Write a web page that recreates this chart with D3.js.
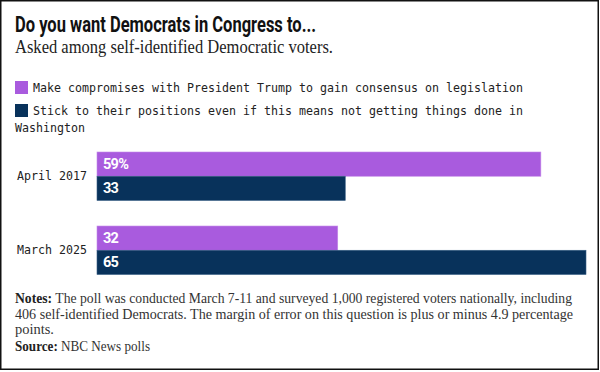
<!DOCTYPE html>
<html>
<head>
    <meta charset="utf-8">
    <title>Do you want Democrats in Congress to...</title>
    <script src="https://d3js.org/d3.v7.min.js"></script>
    <style>
        html, body {
            margin: 0;
            background: #fff;
            overflow: hidden;
        }
    </style>
</head>
<body>
    <svg id="svg"></svg>
    <script>
        // data
        const categories = ["April 2017", "March 2025"];
        const seriesNames = [
            "Make compromises with President Trump to gain consensus on legislation",
            "Stick to their positions even if this means not getting things done in"
        ];
        const compromise = [59, 32];
        const stick = [33, 65];
        const colors = ["#a95bde", "#08325b"];

        const width = 600;
        const height = 372;

        const svg = d3.select("#svg")
        .attr("width", width)
        .attr("height", height);

        svg.append("rect")
        .attr("x", 0.75).attr("y", 0.75)
        .attr("width", 597.5).attr("height", 368.5)
        .attr("fill", "#fff")
        .attr("stroke", "#111")
        .attr("stroke-width", 1.5);

        // title
        svg.append("text")
        .attr("x", 15).attr("y", 32)
        .attr("font-family", "Roboto, sans-serif")
        .attr("font-weight", 700)
        .attr("font-size", 22.5)
        .attr("fill", "#111")
        .attr("textLength", 301)
        .attr("lengthAdjust", "spacingAndGlyphs")
        .text("Do you want Democrats in Congress to...");

        svg.append("text")
        .attr("x", 15).attr("y", 53)
        .attr("font-family", "Liberation Serif, serif")
        .attr("font-size", 18)
        .attr("fill", "#222")
        .attr("textLength", 318)
        .attr("lengthAdjust", "spacingAndGlyphs")
        .text("Asked among self-identified Democratic voters.");

        // legend
        const mono = "DejaVu Sans Mono, monospace";
        const legend = svg.append("g");
        legend.selectAll("rect")
        .data(seriesNames)
        .enter()
        .append("rect")
        .attr("x", 15)
        .attr("y", (d, i) => 81 + i * 23)
        .attr("width", 13)
        .attr("height", 13)
        .attr("fill", (d, i) => colors[i]);

        legend.selectAll("text")
        .data(seriesNames)
        .enter()
        .append("text")
        .attr("x", 33)
        .attr("y", (d, i) => 92 + i * 23)
        .attr("font-family", mono)
        .attr("font-size", 11.5)
        .attr("fill", "#222")
        .attr("textLength", d => d.length * 7.0)
        .attr("lengthAdjust", "spacingAndGlyphs")
        .text(d => d);

        legend.append("text")
        .attr("x", 15).attr("y", 132)
        .attr("font-family", mono)
        .attr("font-size", 11.5)
        .attr("fill", "#222")
        .attr("textLength", 10 * 7.0)
        .attr("lengthAdjust", "spacingAndGlyphs")
        .text("Washington");

        // bars
        const x = d3.scaleLinear().domain([0, 65]).range([97, 586]);
        const y = d3.scaleBand().domain(categories).range([152, 274.5]).paddingInner(0.345).paddingOuter(0);
        const bh = y.bandwidth() / 2;

        const rows = categories.map((c, i) => ({ cat: c, vals: [compromise[i], stick[i]] }));

        const groups = svg.selectAll("g.row")
        .data(rows)
        .enter()
        .append("g")
        .attr("class", "row")
        .attr("transform", d => `translate(0, ${y(d.cat)})`);

        groups.selectAll("rect")
        .data((d, gi) => d.vals.map((v, i) => ({ v, i, gi })))
        .enter()
        .append("rect")
        .attr("x", x(0))
        .attr("y", d => d.i * bh)
        .attr("width", d => x(d.v) - x(0))
        .attr("height", bh)
        .attr("fill", d => colors[d.i])
        .attr("stroke", d => d.i === 0 ? "#c48ae8" : "#3a5f85")
        .attr("stroke-width", 0.6);

        groups.selectAll("text.val")
        .data((d, gi) => d.vals.map((v, i) => ({ v, i, gi })))
        .enter()
        .append("text")
        .attr("class", "val")
        .attr("x", x(0) + 6)
        .attr("y", d => d.i * bh + bh / 2 + 5)
        .attr("font-family", "Roboto, sans-serif")
        .attr("font-weight", 700)
        .attr("font-size", 14.5)
        .attr("letter-spacing", -0.7)
        .attr("fill", "#fff")
        .text(d => d.gi === 0 && d.i === 0 ? d.v + "%" : d.v);

        groups.append("text")
        .attr("x", 87)
        .attr("y", bh + 4)
        .attr("text-anchor", "end")
        .attr("font-family", mono)
        .attr("font-size", 11.5)
        .attr("fill", "#222")
        .attr("textLength", d => d.cat.length * 7.0)
        .attr("lengthAdjust", "spacingAndGlyphs")
        .text(d => d.cat);

        // notes
        const noteLines = [
            ["Notes:", " The poll was conducted March 7-11 and surveyed 1,000 registered voters nationally, including"],
            ["", "406 self-identified Democrats. The margin of error on this question is plus or minus 4.9 percentage"],
            ["", "points."],
            ["Source:", " NBC News polls"]
        ];
        const noteY = [303, 319, 334, 351];
        const noteLen = [557, 558, 39, 135];

        const notes = svg.append("g")
        .attr("font-family", "Liberation Serif, serif")
        .attr("font-size", 13.6)
        .attr("fill", "#333");

        noteLines.forEach((l, i) => {
            const t = notes.append("text")
            .attr("x", 15)
            .attr("y", noteY[i])
            .attr("textLength", noteLen[i])
            .attr("lengthAdjust", "spacingAndGlyphs");
            if (l[0]) t.append("tspan").attr("font-weight", 700).attr("fill", "#222").text(l[0]);
            t.append("tspan").text(l[1]);
        });
    </script>
</body>
</html>
